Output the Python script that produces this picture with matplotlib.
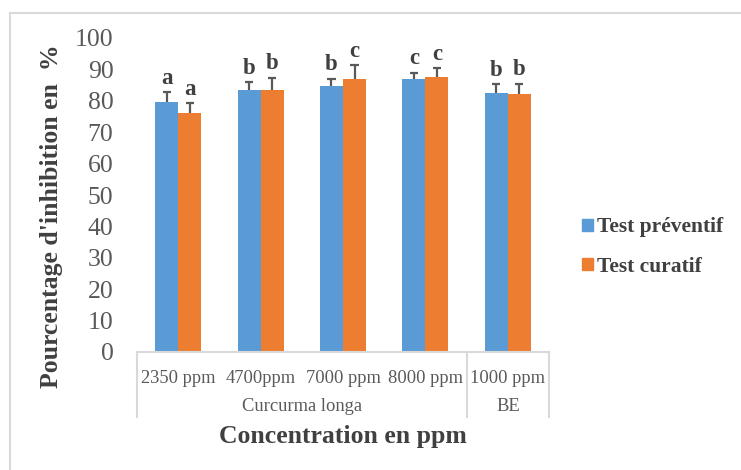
import numpy as np
import matplotlib
matplotlib.use('Agg')
import matplotlib.pyplot as plt
from matplotlib.lines import Line2D
from matplotlib.patches import Patch
import matplotlib.transforms as mtransforms

plt.rcParams['font.family'] = ['Liberation Serif', 'DejaVu Serif']

# données
concentrations = ['2350 ppm', '4700ppm', '7000 ppm', '8000 ppm', '1000 ppm']
groupes = ['Curcurma longa', 'BE']
taille_groupes = [4, 1]
preventif = [79.5, 83.5, 84.6, 86.8, 82.6]
curatif = [76.2, 83.5, 86.8, 87.6, 82.3]
err_preventif = [3.4, 2.4, 2.5, 2.2, 2.7]
err_curatif = [3.0, 3.9, 4.6, 2.8, 3.2]
lettres_preventif = ['a', 'b', 'b', 'c', 'b']
lettres_curatif = ['a', 'b', 'c', 'c', 'b']

bleu = '#5B9BD5'
orange = '#ED7D31'
gris = '#595959'
gris_clair = '#D9D9D9'

fig = plt.figure(figsize=(7.41, 4.70), dpi=100)
ax = fig.add_axes([137/741, 1-352/470, (549-137)/741, (352-38)/470])

x = np.arange(len(concentrations))
w = 0.28
for off, vals, errs, lettres, col in [(-w/2, preventif, err_preventif, lettres_preventif, bleu),
                                      (w/2, curatif, err_curatif, lettres_curatif, orange)]:
    xs = x + off
    vals = np.array(vals)
    errs = np.array(errs)
    ax.bar(xs, vals, width=w, color=col, zorder=2)
    ax.vlines(xs, vals, vals + errs, color=gris, lw=1.6, zorder=3)
    ax.hlines(vals + errs, xs - 0.05, xs + 0.05, color=gris, lw=1.6, zorder=3)
    for xi, top, l in zip(xs, vals + errs, lettres):
        ax.text(xi, top + 1.0, l, ha='center', va='bottom', fontsize=16.5,
                fontweight='bold', color='#404040')

ax.set_xlim(-0.5, len(concentrations) - 0.5)
ax.set_ylim(0, 100)
ax.set_yticks(np.arange(0, 101, 10))
ax.tick_params(axis='y', length=0, pad=17, labelsize=18.5, labelcolor=gris)
ax.set_xticks(x)
ax.set_xticklabels(concentrations, fontsize=13.3, color=gris)
ax.tick_params(axis='x', length=0, pad=13)
for s in ['top', 'right', 'left']:
    ax.spines[s].set_visible(False)
ax.spines['bottom'].set_color(gris_clair)
ax.spines['bottom'].set_linewidth(1.5)

# axe à deux niveaux
trans = mtransforms.blended_transform_factory(ax.transData, ax.transAxes)
bornes = np.concatenate([[0], np.cumsum(taille_groupes)]) - 0.5
for b in bornes:
    ax.plot([b, b], [0, -0.207], transform=trans, color=gris_clair, lw=1.5, clip_on=False)
for g, a, b in zip(groupes, bornes[:-1], bornes[1:]):
    ax.text((a + b) / 2, -0.175, g, transform=trans, ha='center', va='center',
            fontsize=13.3, color=gris)

fig.text(52/741, 1-216/470, "Pourcentage d'inhibition en  %", rotation=90,
         ha='center', va='center', fontsize=18.5, fontweight='bold', color='#404040')
fig.text(343/741, 1-437/470, 'Concentration en ppm', ha='center', va='center',
         fontsize=18.5, fontweight='bold', color='#404040')

handles = [Patch(color=bleu), Patch(color=orange)]
fig.legend(handles, ['Test préventif', 'Test curatif'], loc='center left',
           bbox_to_anchor=(563/741, 1-247/470), frameon=False,
           prop={'size': 15.5, 'weight': 'bold'}, labelcolor='#404040',
           handlelength=0.5, handleheight=0.5, handletextpad=0.2, labelspacing=0.9)

# cadre du graphique
fig.add_artist(Line2D([9.5/741, 9.5/741], [0, 1-13/470], color=gris_clair, lw=1.5))
fig.add_artist(Line2D([9.5/741, 1], [1-13/470, 1-13/470], color=gris_clair, lw=1.5))

fig.savefig('out.png', dpi=100)
